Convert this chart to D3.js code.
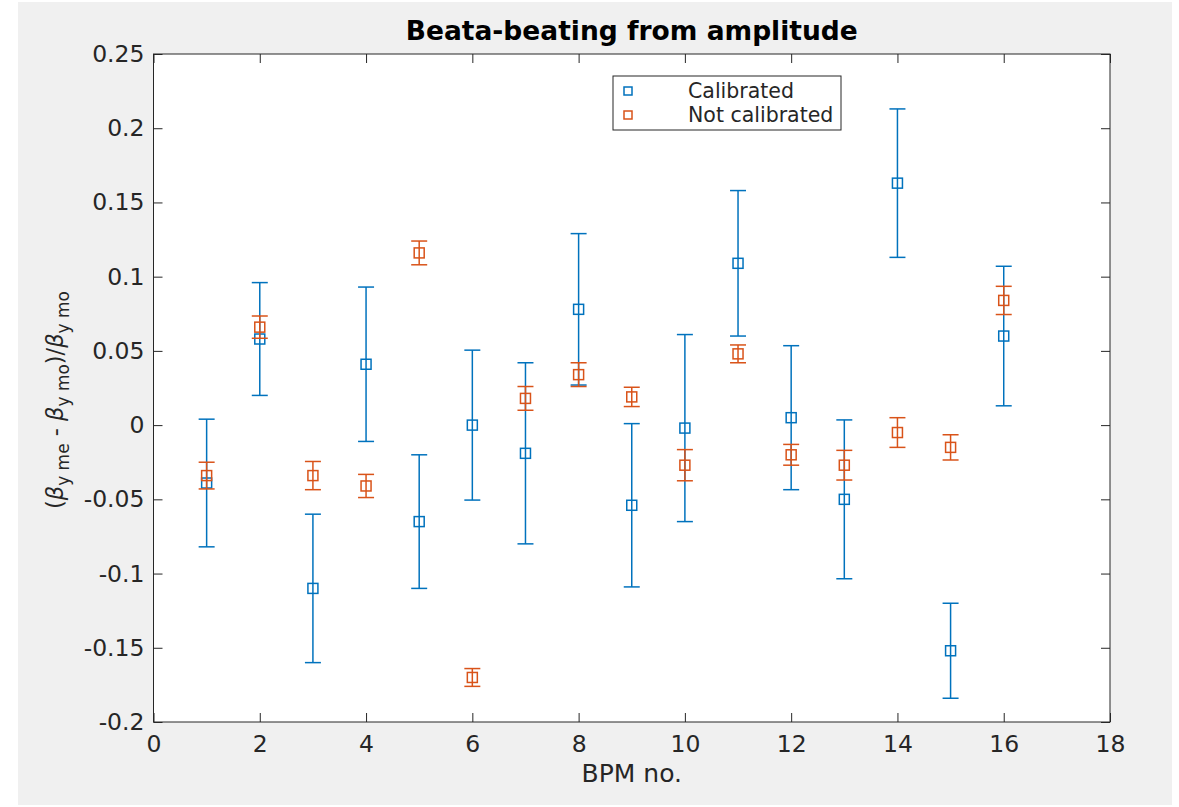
<!DOCTYPE html>
<html>
<head>
<meta charset="utf-8">
<script src="https://cdn.jsdelivr.net/npm/d3@7"></script>
<style>
  body { margin: 0; background: #fff; }
  text { font-family: "DejaVu Sans", sans-serif; fill: #262626; }
</style>
</head>
<body>
<script>
// BPM numbers and the two measured series (value +- error)
const bpmNo = [1, 2, 3, 4, 5, 6, 7, 8, 9, 10, 11, 12, 13, 14, 15, 16];
const calValues = [-0.039, 0.058, -0.110, 0.041, -0.065, 0.000, -0.019, 0.078, -0.054, -0.002, 0.109, 0.005, -0.050, 0.163, -0.152, 0.060];
const calErrors = [0.043, 0.038, 0.050, 0.052, 0.045, 0.0505, 0.061, 0.051, 0.055, 0.063, 0.049, 0.0485, 0.0535, 0.050, 0.032, 0.047];
const notValues = [-0.034, 0.066, -0.034, -0.041, 0.116, -0.170, 0.018, 0.034, 0.019, -0.027, 0.048, -0.020, -0.027, -0.005, -0.015, 0.084];
const notErrors = [0.009, 0.0075, 0.0095, 0.0078, 0.008, 0.006, 0.008, 0.008, 0.0065, 0.0105, 0.006, 0.007, 0.010, 0.010, 0.0085, 0.0095];
const xTicks = [0, 2, 4, 6, 8, 10, 12, 14, 16, 18];
const yTicks = [-0.2, -0.15, -0.1, -0.05, 0, 0.05, 0.1, 0.15, 0.2, 0.25];
const seriesNames = ['Calibrated', 'Not calibrated'];
const seriesColors = ['#0072BD', '#D95319'];

const W = 1179, H = 807;
const margin = {top: 54, right: 69, bottom: 85, left: 153.5};
const plotW = W - margin.left - margin.right,
      plotH = H - margin.top - margin.bottom;

const svg = d3.select('body').append('svg')
  .attr('width', W)
  .attr('height', H);

// gray figure background
svg.append('rect')
  .attr('x', 18).attr('y', 2)
  .attr('width', 1154).attr('height', 803)
  .attr('fill', '#f0f0f0');

const g = svg.append('g')
  .attr('transform', `translate(${margin.left},${margin.top})`);

g.append('rect')
  .attr('width', plotW).attr('height', plotH)
  .attr('fill', '#fff');

const x = d3.scaleLinear().domain([0, 18]).range([0, plotW]);
const y = d3.scaleLinear().domain([-0.2, 0.25]).range([plotH, 0]);

const fmt = d => String(+d.toFixed(2));
const tick = 9;

// axes, ticks pointing inwards on all four sides
const xA = g.append('g').attr('transform', `translate(0,${plotH})`)
  .call(d3.axisBottom(x).tickValues(xTicks).tickSizeInner(-tick).tickSizeOuter(0).tickPadding(13).tickFormat(fmt));
const xTop = g.append('g')
  .call(d3.axisTop(x).tickValues(xTicks).tickSizeInner(-tick).tickSizeOuter(0).tickFormat(''));
const yA = g.append('g')
  .call(d3.axisLeft(y).tickValues(yTicks).tickSizeInner(-tick).tickSizeOuter(0).tickPadding(9).tickFormat(fmt));
const yRight = g.append('g').attr('transform', `translate(${plotW},0)`)
  .call(d3.axisRight(y).tickValues(yTicks).tickSizeInner(-tick).tickSizeOuter(0).tickFormat(''));

[xA, xTop, yA, yRight].forEach(a => {
  a.select('.domain').remove();
  a.selectAll('line').attr('stroke', '#262626');
  a.selectAll('text').attr('font-size', 23.5).attr('fill', '#262626')
    .style('font-family', '"DejaVu Sans", sans-serif');
});

g.append('rect')
  .attr('width', plotW).attr('height', plotH)
  .attr('fill', 'none')
  .attr('stroke', '#262626')
  .attr('stroke-width', 1);

// error bars + square markers
const cap = 8, box = 10;
function drawSeries(values, errors, color) {
  const s = g.append('g')
    .attr('stroke', color)
    .attr('stroke-width', 1.5)
    .attr('fill', 'none');
  const pts = s.selectAll('g')
    .data(bpmNo.map((b, i) => ({b, v: values[i], e: errors[i]})))
    .enter().append('g');
  pts.append('line')
    .attr('x1', d => x(d.b)).attr('x2', d => x(d.b))
    .attr('y1', d => y(d.v + d.e)).attr('y2', d => y(d.v - d.e));
  pts.append('line')
    .attr('x1', d => x(d.b) - cap).attr('x2', d => x(d.b) + cap)
    .attr('y1', d => y(d.v + d.e)).attr('y2', d => y(d.v + d.e));
  pts.append('line')
    .attr('x1', d => x(d.b) - cap).attr('x2', d => x(d.b) + cap)
    .attr('y1', d => y(d.v - d.e)).attr('y2', d => y(d.v - d.e));
  pts.append('rect')
    .attr('x', d => x(d.b) - box / 2).attr('y', d => y(d.v) - box / 2)
    .attr('width', box).attr('height', box);
}
drawSeries(calValues, calErrors, seriesColors[0]);
drawSeries(notValues, notErrors, seriesColors[1]);

// title
svg.append('text')
  .attr('x', margin.left + plotW / 2).attr('y', 40)
  .attr('text-anchor', 'middle')
  .attr('font-size', 26.5).attr('font-weight', 'bold')
  .style('fill', '#000')
  .text('Beata-beating from amplitude');

// x label
svg.append('text')
  .attr('x', margin.left + plotW / 2).attr('y', 782)
  .attr('text-anchor', 'middle')
  .attr('font-size', 25)
  .text('BPM no.');

// y label with subscripts
const yl = svg.append('text')
  .attr('transform', `translate(63,${margin.top + plotH / 2 + 12}) rotate(-90)`)
  .attr('text-anchor', 'middle')
  .attr('font-size', 22.5);
const parts = [
  ['(', 0], ['β', 0, true], ['y me', 1], [' - ', 0], ['β', 0, true], ['y mo', 1], [')/', 0], ['β', 0, true], ['y mo', 1]
];
let prevSub = 0;
parts.forEach(([t, sub, ital]) => {
  const ts = yl.append('tspan').text(t);
  if (sub !== prevSub) ts.attr('dy', sub ? 6 : -6);
  if (sub) ts.attr('font-size', 17);
  if (ital) ts.attr('font-style', 'italic');
  prevSub = sub;
});

// legend
const leg = svg.append('g').attr('transform', 'translate(613,76)');
leg.append('rect')
  .attr('width', 228).attr('height', 54)
  .attr('fill', '#fff')
  .attr('stroke', '#262626');
seriesNames.forEach((name, i) => {
  leg.append('rect')
    .attr('x', 15 - 4).attr('y', 15 + i * 24 - 4)
    .attr('width', 8).attr('height', 8)
    .attr('fill', 'none')
    .attr('stroke', seriesColors[i])
    .attr('stroke-width', 1.5);
  leg.append('text')
    .attr('x', 75).attr('y', 15 + i * 24)
    .attr('dy', '0.35em')
    .attr('font-size', 20.5)
    .text(name);
});
</script>
</body>
</html>
